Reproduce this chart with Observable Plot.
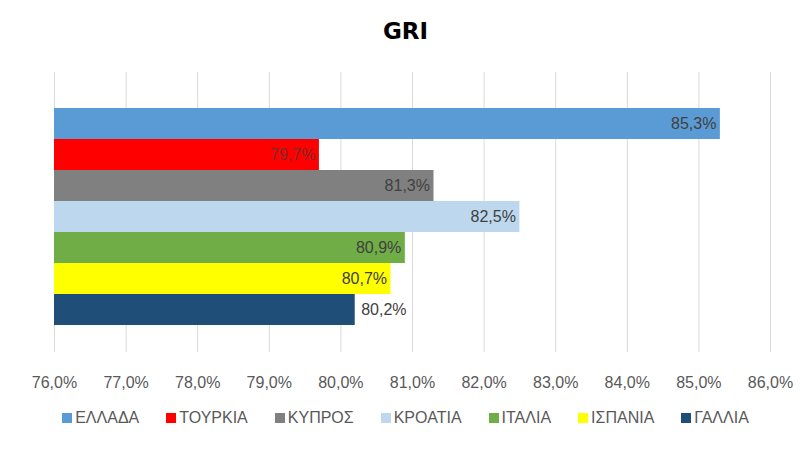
<!DOCTYPE html>
<html><head><meta charset="utf-8">
<script src="https://cdn.jsdelivr.net/npm/d3@7"></script>
<script src="https://cdn.jsdelivr.net/npm/@observablehq/plot@0.6"></script>
<style>
body{margin:0;background:#fff;font-family:"Liberation Sans",Arial,sans-serif;}
#wrap{width:811px;height:452px;position:relative;overflow:hidden;}
#title{height:60px;line-height:62px;text-align:center;font-weight:bold;font-size:23px;color:#000;font-family:"DejaVu Sans",sans-serif;}
#legend{display:flex;justify-content:center;gap:27px;font-size:16px;color:#595959;margin-top:9px;padding-left:0px;}
#legend span.it{display:flex;align-items:center;}
#legend i{display:inline-block;width:10px;height:10px;margin-right:3px;}
</style></head>
<body><div id="wrap"><div id="title">GRI</div><div id="chart"></div><div id="legend"></div></div>
<script>
const countries = ["ΕΛΛΑΔΑ","ΤΟΥΡΚΙΑ","ΚΥΠΡΟΣ","ΚΡΟΑΤΙΑ","ΙΤΑΛΙΑ","ΙΣΠΑΝΙΑ","ΓΑΛΛΙΑ"];
const values = [85.3, 79.7, 81.3, 82.5, 80.9, 80.7, 80.2];
const colors = ["#5b9bd5","#ff0000","#808080","#bdd7ee","#70ad47","#ffff00","#1f4e79"];
const labelColors = ["#404040","#7b2b2b","#404040","#404040","#404040","#404040","#404040"];
const labelOutside = [false,false,false,false,false,false,true];
const xTicks = [76,77,78,79,80,81,82,83,84,85,86];

const data = countries.map((c,i)=>({country:c, value:values[i], color:colors[i], lc:labelColors[i], out:labelOutside[i]}));
const fmt = v => v.toFixed(1).replace(".", ",") + "%";

const chart = Plot.plot({
  width: 811, height: 340,
  marginLeft: 54, marginRight: 41, marginTop: 12, marginBottom: 48,
  style: {fontFamily: "Liberation Sans, Arial, sans-serif", fontSize: "16px", color: "#595959", background: "#fff"},
  x: {domain: [76, 86], ticks: xTicks, tickFormat: fmt, tickSize: 0, tickPadding: 24, label: null},
  y: {domain: countries, range: [46, 266], padding: 0, axis: null},
  color: {domain: countries, range: colors},
  marks: [
    Plot.ruleX(xTicks, {stroke: "#d9d9d9", strokeWidth: 1}),
    Plot.barX(data, {y: "country", x1: 76, x2: "value", fill: "country"}),
    Plot.text(data.filter(d=>!d.out), {y: "country", x: "value", text: d=>fmt(d.value), textAnchor: "end", dx: -4, fill: d=>d.lc, fontSize: 16}),
    Plot.text(data.filter(d=>d.out), {y: "country", x: "value", text: d=>fmt(d.value), textAnchor: "start", dx: 6, fill: d=>d.lc, fontSize: 16})
  ]
});
document.getElementById("chart").appendChild(chart);

const lg = document.getElementById("legend");
countries.forEach((c,i)=>{
  const s = document.createElement("span"); s.className="it";
  const b = document.createElement("i"); b.style.background = colors[i];
  s.appendChild(b); s.appendChild(document.createTextNode(c));
  lg.appendChild(s);
});
</script></body></html>
